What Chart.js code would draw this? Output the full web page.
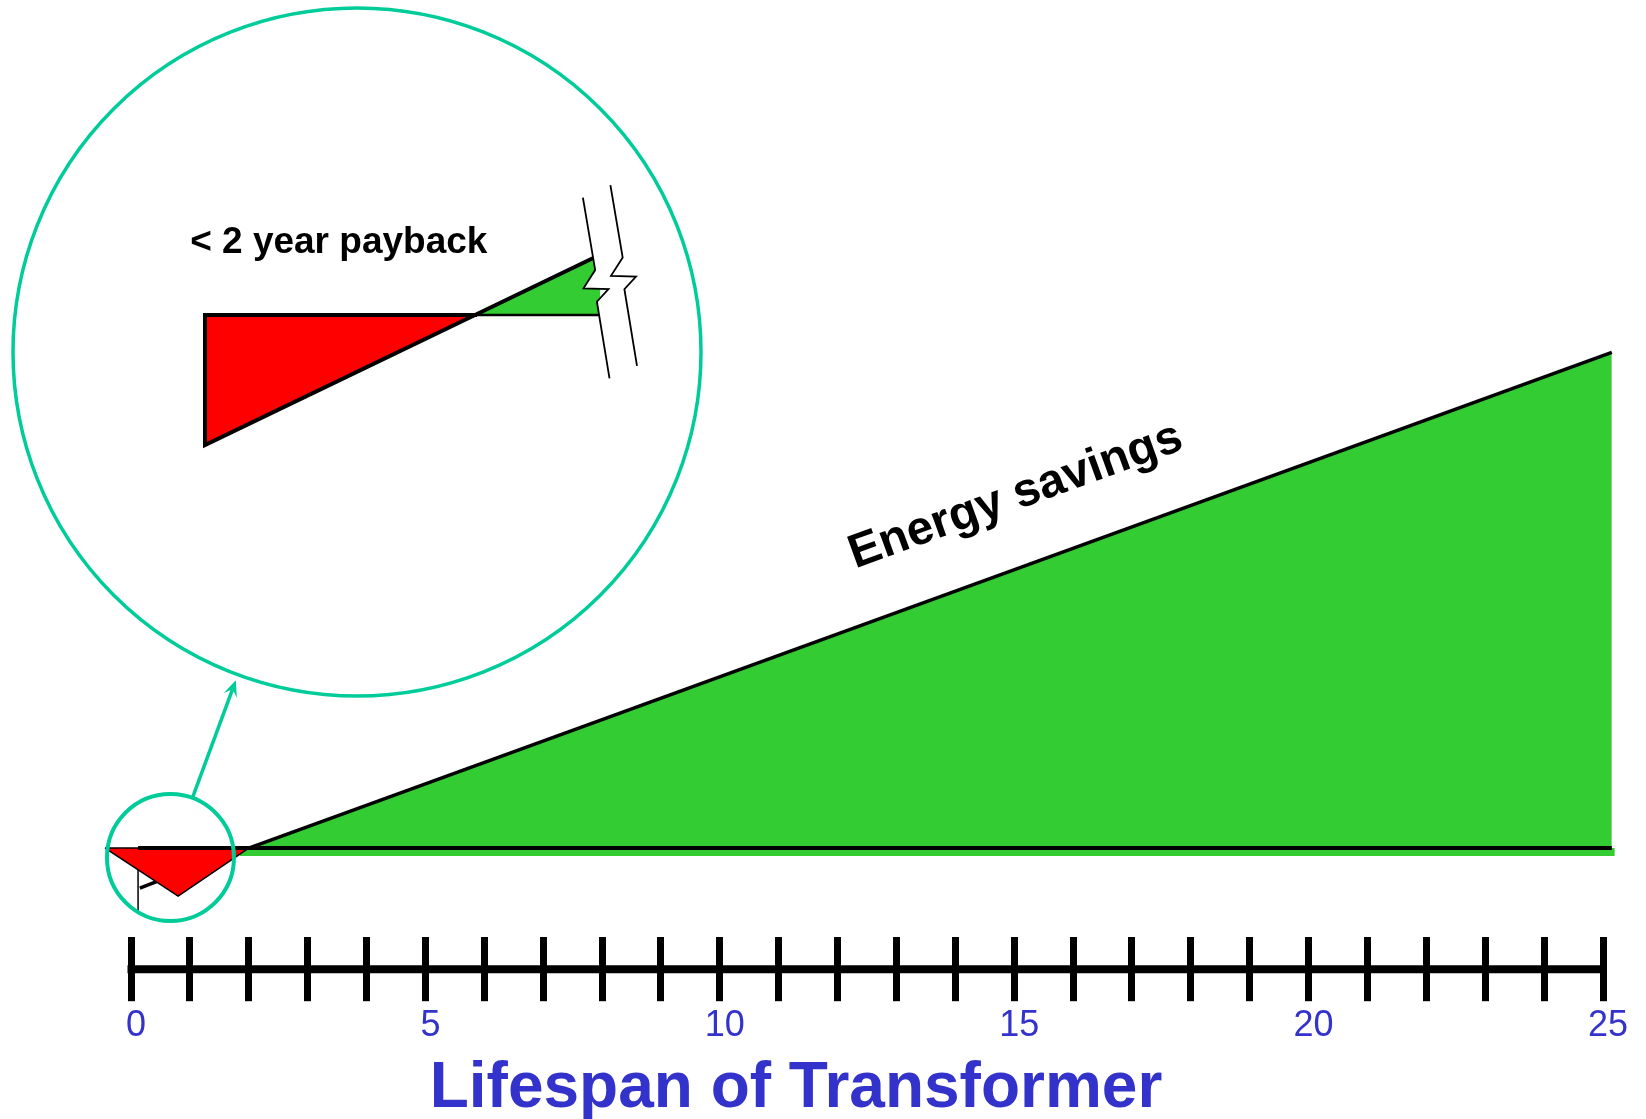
<!DOCTYPE html>
<html>
<head>
<meta charset="utf-8">
<script src="https://cdn.jsdelivr.net/npm/chart.js@4.4.1/dist/chart.umd.min.js"></script>
<style>
  html, body { margin: 0; padding: 0; background: #fff; overflow: hidden; }
  #page { position: relative; width: 1646px; height: 1119px; overflow: hidden; background: #fff; }
  #mainChart, #insetChart { position: absolute; }
</style>
</head>
<body>
<div id="page">
  <canvas id="mainChart" width="1700" height="1119"></canvas>
  <canvas id="insetChart" width="694" height="694"></canvas>
</div>
<script>
// Net savings of the efficient transformer over its life (arbitrary units)
const netYears = [-0.44, 0.8, 2.0, 25.15];
const netSavings = [0, -9.7, 0, 100];

// thin green band just under the zero line
const bandYears = [1.85, 25.2];
const bandValues = [-1.6, -1.6];

// zero line
const zeroYears = [-0.44, 0.12, 25.15];
const zeroValues = [0, 0, 0];

// leftovers of the small sketch under the red triangle
const sketchYears = [0.12, 0.12];
const sketchValues = [0, -12.7];
const stubYears = [0.15, 0.75];
const stubValues = [-8.1, -5.3];

// where the zoom circle sits on the main chart
const zoomYears = [0.67];
const zoomValues = [-1.9];

// x axis
const axisYears = [0, 25];
const labelledYears = [0, 5, 10, 15, 20, 25];
const axisTitle = 'Lifespan of Transformer';

// inset: the first years enlarged
const insetYears = [0, 0, 2, 2.93];
const insetSavings = [0, -8.64, 0, 4.02];
const insetZeroYears = [0, 2, 2.93];
const insetZeroValues = [0, 0, 0];
const breakYear = 2.92;

const savingsLabel = 'Energy savings';
const savingsLabelAt = { x: 12.3, y: 56.4 };
const paybackLabel = '< 2 year payback';
const paybackLabelAt = { x: -0.11, y: 4.12 };

// colours and layout
const RED = '#FF0000';
const GREEN = '#33CC33';
const TEAL = '#00CC99';
const BLUE = '#3333CC';
const FONT = '"Liberation Sans", Arial, Helvetica, sans-serif';

const MAIN_LEFT = -54;
const INSET_LEFT = 10, INSET_TOP = 5, INSET_SIZE = 694, INSET_RADIUS = 344;

Chart.defaults.font.family = FONT;

const mainCanvas = document.getElementById('mainChart');
mainCanvas.style.left = MAIN_LEFT + 'px';
mainCanvas.style.top = '0px';
const insetCanvas = document.getElementById('insetChart');
insetCanvas.style.left = INSET_LEFT + 'px';
insetCanvas.style.top = INSET_TOP + 'px';

function toPoints(xs, ys) {
    return xs.map((x, i) => ({ x: x, y: ys[i] }));
}

// Thick horizontal line through the middle of the tick marks
const axisLinePlugin = {
    id: 'axisLine',
    afterDraw(chart) {
        const { ctx, scales: { x } } = chart;
        const yMid = x.top + x.options.grid.tickLength / 2;
        const half = x.options.grid.tickWidth / 2;
        ctx.save();
        ctx.strokeStyle = '#000';
        ctx.lineWidth = 8;
        ctx.beginPath();
        ctx.moveTo(x.getPixelForValue(axisYears[0]) - half, yMid);
        ctx.lineTo(x.getPixelForValue(axisYears[1]) + half, yMid);
        ctx.stroke();
        ctx.restore();
    }
};

// "Energy savings" text along the slope, and the arrow to the inset
const mainDecorPlugin = {
    id: 'mainDecor',
    afterDatasetsDraw(chart) {
        const { ctx, scales: { x, y } } = chart;
        const n = netYears.length - 1;
        const angle = Math.atan2(
            y.getPixelForValue(netSavings[n]) - y.getPixelForValue(netSavings[n - 1]),
            x.getPixelForValue(netYears[n]) - x.getPixelForValue(netYears[n - 1])
        );
        ctx.save();
        ctx.translate(x.getPixelForValue(savingsLabelAt.x), y.getPixelForValue(savingsLabelAt.y));
        ctx.rotate(angle);
        ctx.font = 'bold 47.5px ' + FONT;
        ctx.fillStyle = '#000';
        ctx.textAlign = 'left';
        ctx.textBaseline = 'alphabetic';
        ctx.fillText(savingsLabel, 0, 0);
        ctx.restore();

        // arrow from the small circle to the inset circle
        const meta = chart.getDatasetMeta(chart.data.datasets.findIndex(d => d.label === 'zoom'));
        const pt = meta.data[0];
        const r = chart.data.datasets[meta.index].pointRadius;
        const bigX = INSET_LEFT + INSET_SIZE / 2 - MAIN_LEFT;
        const bigY = INSET_TOP + INSET_SIZE / 2;
        const dx = bigX - pt.x, dy = bigY - pt.y;
        const len = Math.hypot(dx, dy);
        const ux = dx / len, uy = dy / len;
        const sx = pt.x + ux * r, sy = pt.y + uy * r;
        const ex = bigX - ux * (INSET_RADIUS + 6), ey = bigY - uy * (INSET_RADIUS + 6);
        const head = 16, wing = 7;
        ctx.save();
        ctx.strokeStyle = TEAL;
        ctx.fillStyle = TEAL;
        ctx.lineWidth = 3.5;
        ctx.beginPath();
        ctx.moveTo(sx, sy);
        ctx.lineTo(ex - ux * head * 0.6, ey - uy * head * 0.6);
        ctx.stroke();
        ctx.beginPath();
        ctx.moveTo(ex, ey);
        ctx.lineTo(ex - ux * head - uy * wing, ey - uy * head + ux * wing);
        ctx.lineTo(ex - ux * head * 0.6, ey - uy * head * 0.6);
        ctx.lineTo(ex - ux * head + uy * wing, ey - uy * head - ux * wing);
        ctx.closePath();
        ctx.fill();
        ctx.restore();
    }
};

const mainChart = new Chart(mainCanvas, {
    type: 'line',
    data: {
        datasets: [
            {
                label: 'band',
                data: toPoints(bandYears, bandValues),
                borderColor: 'rgba(0,0,0,0)',
                borderWidth: 0,
                backgroundColor: GREEN,
                fill: 'origin',
                pointRadius: 0,
                order: 6
            },
            {
                label: 'stub',
                data: toPoints(stubYears, stubValues),
                borderColor: '#000',
                borderWidth: 3.5,
                fill: false,
                pointRadius: 0,
                order: 5
            },
            {
                label: 'sketch',
                data: toPoints(sketchYears, sketchValues),
                borderColor: '#000',
                borderWidth: 1.5,
                fill: false,
                pointRadius: 0,
                order: 4
            },
            {
                label: 'Net savings',
                data: toPoints(netYears, netSavings),
                borderColor: '#000',
                borderWidth: 3.5,
                segment: {
                    borderWidth: ctx => ctx.p0DataIndex < 2 ? 1.5 : 3.5 // thin outline round the red part
                },
                fill: { target: 'origin', above: GREEN, below: RED },
                pointRadius: 0,
                order: 3
            },
            {
                label: 'zero',
                data: toPoints(zeroYears, zeroValues),
                borderColor: '#000',
                borderWidth: 4,
                segment: {
                    borderWidth: ctx => ctx.p0DataIndex === 0 ? 1.5 : 4
                },
                fill: false,
                pointRadius: 0,
                order: 2
            },
            {
                label: 'zoom',
                data: toPoints(zoomYears, zoomValues),
                showLine: false,
                pointRadius: 63.5,
                pointBorderWidth: 4,
                pointBorderColor: TEAL,
                pointBackgroundColor: 'rgba(0,0,0,0)',
                order: 1
            }
        ]
    },
    options: {
        responsive: false,
        animation: false,
        events: [],
        layout: { padding: 0, autoPadding: false }, // big marker circle must not shrink the plot
        plugins: {
            legend: { display: false },
            tooltip: { enabled: false }
        },
        scales: {
            x: {
                type: 'linear',
                min: -3.142,
                max: 25.73,
                afterBuildTicks: scale => {
                    scale.ticks = scale.ticks.filter(t => t.value >= axisYears[0] && t.value <= axisYears[1]);
                },
                ticks: {
                    stepSize: 1,
                    autoSkip: false,
                    maxRotation: 0,
                    includeBounds: false,
                    padding: 3,
                    labelOffset: 5,
                    color: BLUE,
                    font: { size: 36, lineHeight: 1.2 },
                    callback: value => labelledYears.includes(value) ? String(value) : ''
                },
                grid: {
                    drawOnChartArea: false,
                    drawTicks: true,
                    tickLength: 64,
                    tickWidth: 7,
                    tickColor: '#000'
                },
                border: { display: false },
                title: {
                    display: true,
                    text: axisTitle,
                    color: BLUE,
                    font: { size: 64, weight: 'bold', lineHeight: 0.9 },
                    padding: { top: 10, bottom: 1 }
                }
            },
            y: {
                type: 'linear',
                display: false,
                min: -17.98,
                max: 171.1
            }
        }
    },
    plugins: [axisLinePlugin, mainDecorPlugin]
});

// Circle, break symbol and note for the enlarged view
const insetDecorPlugin = {
    id: 'insetDecor',
    beforeDatasetsDraw(chart) {
        const { ctx } = chart;
        ctx.save();
        ctx.strokeStyle = TEAL;
        ctx.lineWidth = 3.5;
        ctx.beginPath();
        ctx.arc(chart.width / 2, chart.height / 2, INSET_RADIUS, 0, Math.PI * 2);
        ctx.stroke();
        ctx.restore();
    },
    afterDatasetsDraw(chart) {
        const { ctx, scales: { x, y } } = chart;
        const bx = x.getPixelForValue(breakYear);
        const by = y.getPixelForValue(0);
        const edge = [[-16.3, -117.3], [-4, -45], [-15.7, -26.7], [9.3, -26], [-2.3, -13.3], [10.3, 63.3]];
        const shift = [27.5, -12.5];
        ctx.save();
        ctx.beginPath();
        edge.forEach(([dx, dy], i) => i ? ctx.lineTo(bx + dx, by + dy) : ctx.moveTo(bx + dx, by + dy));
        for (let i = edge.length - 1; i >= 0; i--) {
            ctx.lineTo(bx + edge[i][0] + shift[0], by + edge[i][1] + shift[1]);
        }
        ctx.closePath();
        ctx.fillStyle = '#fff';
        ctx.fill();
        ctx.strokeStyle = '#000';
        ctx.lineWidth = 1.8;
        [0, 1].forEach(k => {
            ctx.beginPath();
            edge.forEach(([dx, dy], i) => {
                const px = bx + dx + shift[0] * k;
                const py = by + dy + shift[1] * k;
                if (i) ctx.lineTo(px, py); else ctx.moveTo(px, py);
            });
            ctx.stroke();
        });

        ctx.font = 'bold 37px ' + FONT;
        ctx.fillStyle = '#000';
        ctx.textAlign = 'left';
        ctx.textBaseline = 'alphabetic';
        ctx.fillText(paybackLabel, x.getPixelForValue(paybackLabelAt.x), y.getPixelForValue(paybackLabelAt.y));
        ctx.restore();
    }
};

const insetChart = new Chart(insetCanvas, {
    type: 'line',
    data: {
        datasets: [
            {
                label: 'Net savings, first years',
                data: toPoints(insetYears, insetSavings),
                borderColor: '#000',
                borderWidth: 4,
                borderJoinStyle: 'miter',
                fill: { target: 'origin', above: GREEN, below: RED },
                pointRadius: 0,
                order: 2
            },
            {
                label: 'zero',
                data: toPoints(insetZeroYears, insetZeroValues),
                borderColor: '#000',
                borderWidth: 4,
                borderCapStyle: 'square',
                segment: {
                    borderWidth: ctx => ctx.p0DataIndex === 0 ? 4 : 2.5
                },
                fill: false,
                pointRadius: 0,
                order: 1
            }
        ]
    },
    options: {
        responsive: false,
        animation: false,
        events: [],
        layout: { padding: 0, autoPadding: false },
        plugins: {
            legend: { display: false },
            tooltip: { enabled: false }
        },
        scales: {
            x: { type: 'linear', display: false, min: -1.4444, max: 3.6963 },
            y: { type: 'linear', display: false, min: -25.515, max: 20.598 }
        }
    },
    plugins: [insetDecorPlugin]
});
</script>
</body>
</html>
